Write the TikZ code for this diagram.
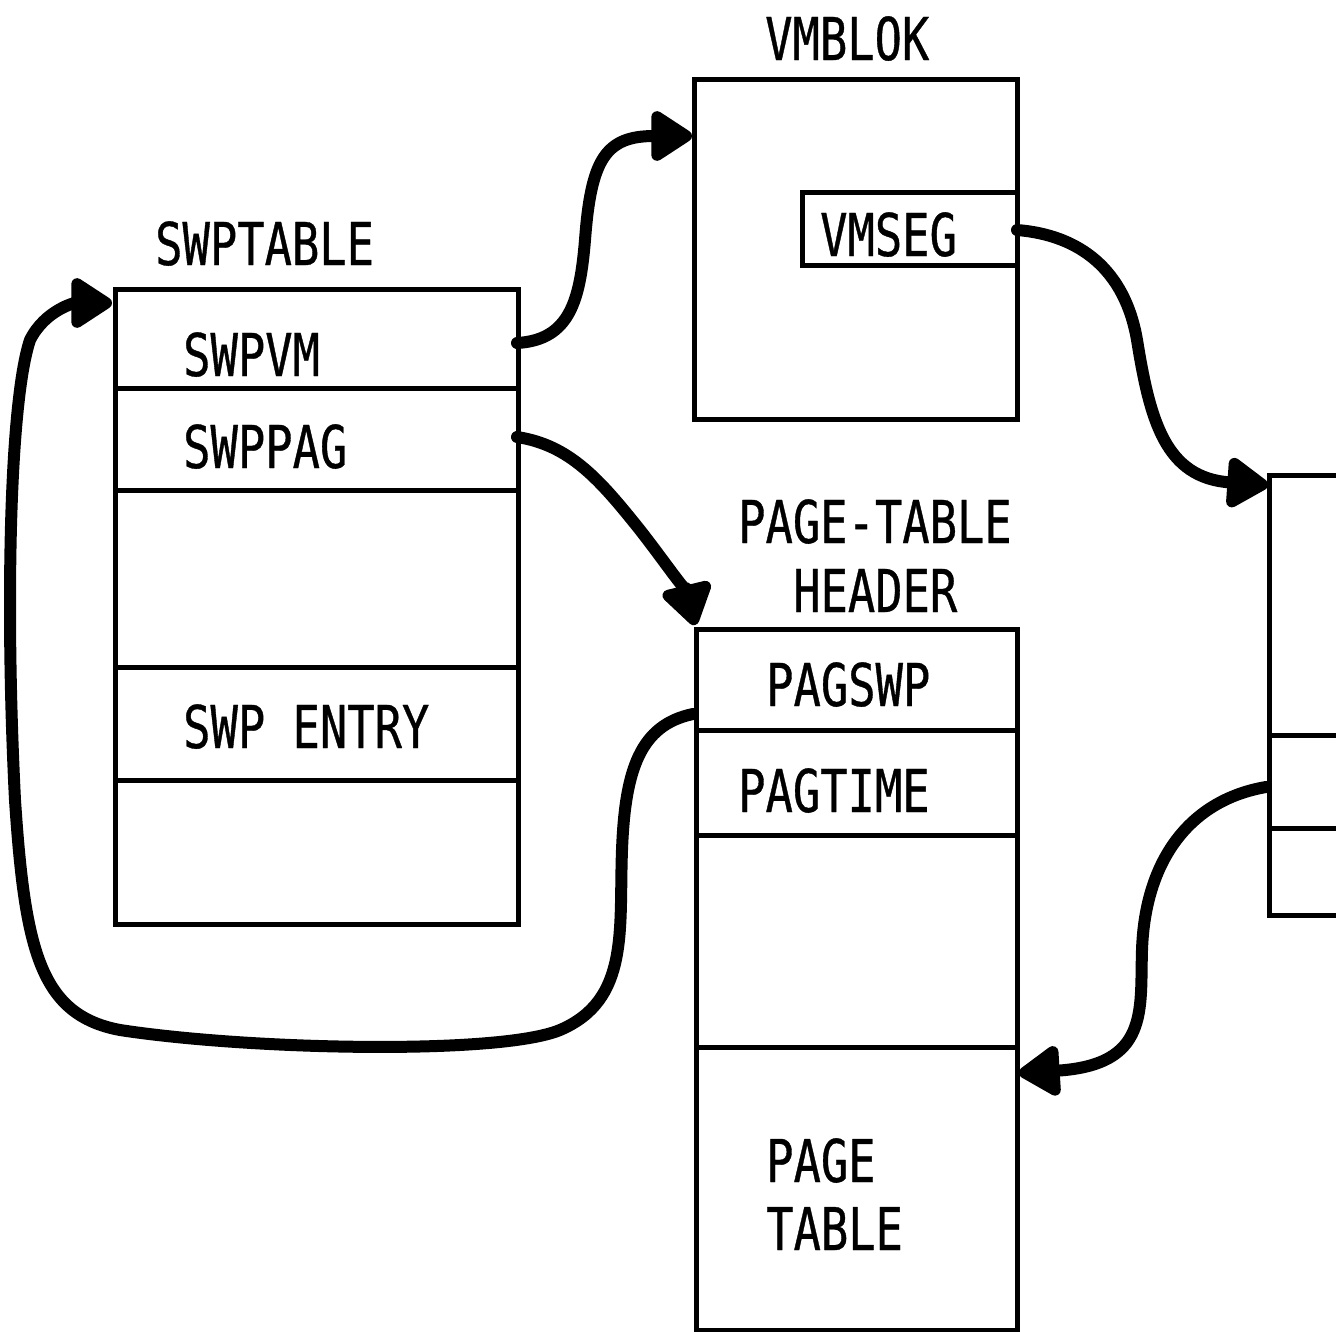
\documentclass[tikz,border=0pt]{standalone}
\usepackage{fontspec}
\usetikzlibrary{arrows.meta}
\newfontfamily\lblfont[FakeStretch=0.77,FakeBold=0.6]{DejaVu Sans Mono}
\begin{document}
\begin{tikzpicture}[x=1pt,y=-1pt,
  box/.style={draw,line width=5pt,rectangle,inner sep=0pt,anchor=north west},
  divider/.style={line width=5pt},
  lbl/.style={anchor=base west,inner sep=0pt,font=\lblfont\fontsize{59}{59}\selectfont},
  conn/.style={line width=12pt,line cap=round,line join=round,
    -{Triangle[length=46pt,width=56pt,line join=round]}}]
\clip (0,0) rectangle (1336,1331);
\fill[white] (0,0) rectangle (1336,1331);

% swap table
\node[box,minimum width=403pt,minimum height=635pt] (swp) at (113,287) {};
\draw[divider] (113,388) -- (516,388);
\draw[divider] (113,490) -- (516,490);
\draw[divider] (113,667) -- (516,667);
\draw[divider] (113,780) -- (516,780);
\node[lbl] (swptitle) at (155,265) {SWPTABLE};
\node[lbl] (swpvm) at (183,376) {SWPVM};
\node[lbl] (swppag) at (183,468) {SWPPAG};
\node[lbl] (swpentry) at (183,748) {SWP ENTRY};

% virtual memory block
\node[box,minimum width=323pt,minimum height=340pt] (vmb) at (692,77) {};
\node[lbl] (vmbtitle) at (765,60) {VMBLOK};
\node[box,minimum width=215pt,minimum height=73pt] (vmseg) at (800,190) {};
\node[lbl] (vmseglbl) at (820,256) {VMSEG};

% page table header
\node[box,minimum width=321pt,minimum height=701pt] (pth) at (694,627) {};
\draw[divider] (694,730) -- (1015,730);
\draw[divider] (694,835) -- (1015,835);
\draw[divider] (694,1047) -- (1015,1047);
\node[lbl] (pthtitle) at (738,543) {PAGE-TABLE};
\node[lbl] (pthtitle2) at (793,612) {HEADER};
\node[lbl] (pagswp) at (766,706) {PAGSWP};
\node[lbl] (pagtime) at (738,812) {PAGTIME};
\node[lbl] (pagtab1) at (766,1182) {PAGE};
\node[lbl] (pagtab2) at (766,1250) {TABLE};

% segment table at the right edge
\node[box,minimum width=200pt,minimum height=440pt] (seg) at (1267,473) {};
\draw[divider] (1267,735) -- (1467,735);
\draw[divider] (1267,828) -- (1467,828);

% connection points
\coordinate (c1s) at (517,343);
\coordinate (c1e) at (692,136);
\coordinate (c2s) at (517,437);
\coordinate (c2e) at (695,625);
\coordinate (c3s) at (1017,230);
\coordinate (c3e) at (1268,485);
\coordinate (c4s) at (1266,787);
\coordinate (c4e) at (1019,1073);
\coordinate (c5s) at (693,714);
\coordinate (c5e) at (112,303);

% pointers
\draw[conn] (c1s) .. controls (570,340) and (580,300) .. (585,240)
  .. controls (591,160) and (605,136) .. (c1e);
\draw[conn] (c2s) .. controls (570,445) and (600,480) .. (640,530)
  .. controls (665,562) and (688,596) .. (c2e);
\draw[conn] (c3s) .. controls (1080,235) and (1125,270) .. (1137,340)
  .. controls (1150,420) and (1165,478) .. (c3e);
\draw[conn] (c4s) .. controls (1190,800) and (1145,860) .. (1142,950)
  .. controls (1140,1010) and (1150,1065) .. (c4e);
\draw[conn] (c5s) .. controls (640,725) and (625,770) .. (622,850)
  .. controls (619,930) and (630,1000) .. (560,1030)
  .. controls (500,1055) and (250,1050) .. (120,1030)
  .. controls (40,1015) and (25,950) .. (15,800)
  .. controls (5,600) and (10,400) .. (30,340)
  .. controls (45,310) and (75,303) .. (c5e);
\end{tikzpicture}
\end{document}
